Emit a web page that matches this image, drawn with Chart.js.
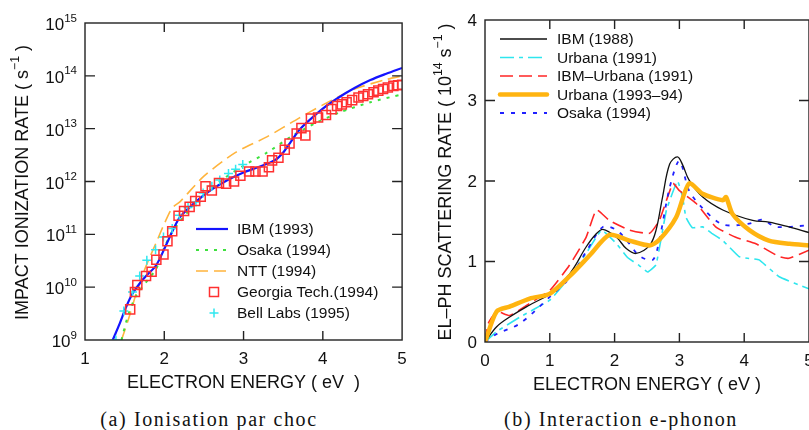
<!DOCTYPE html>
<html>
<head>
<meta charset="utf-8">
<script src="https://cdn.jsdelivr.net/npm/chart.js@4.4.1/dist/chart.umd.min.js"></script>
<style>
html, body { margin: 0; padding: 0; background: #fff; width: 809px; height: 430px; overflow: hidden; }
canvas { position: absolute; top: 0; }
#chartA { left: 0; }
#chartB { left: 410px; }
.cap { position: absolute; top: 408px; font: 20px "Liberation Serif", serif; letter-spacing: 1.6px;
       line-height: 22px; white-space: nowrap; transform: translateX(-50%); color: #111; }
</style>
</head>
<body>
<canvas id="chartA" width="410" height="400"></canvas>
<canvas id="chartB" width="410" height="400"></canvas>
<div class="cap" style="left:209px">(a) Ionisation par choc</div>
<div class="cap" style="left:621px">(b) Interaction e-phonon</div>
<script>
// ---- (a) impact ionization rate: energy (eV) and log10 of rate (s^-1)
const ibm93E   = [1.35, 1.44, 1.52, 1.6, 1.69, 1.77, 1.9, 2.02, 2.1, 2.2, 2.4, 2.6, 2.8, 3.0, 3.2, 3.4, 3.5, 3.6, 3.7, 3.8, 4.0, 4.2, 4.4, 4.6, 4.8, 5.0];
const ibm93Log = [9.0, 9.32, 9.63, 9.88, 10.07, 10.21, 10.42, 10.79, 11.05, 11.33, 11.62, 11.85, 12.03, 12.17, 12.28, 12.41, 12.55, 12.76, 12.97, 13.12, 13.38, 13.59, 13.77, 13.92, 14.04, 14.15];

const osakaE   = [1.46, 1.55, 1.65, 1.8, 1.9, 2.0, 2.1, 2.2, 2.4, 2.7, 3.0, 3.3, 3.6, 3.9, 4.2, 4.6, 5.0];
const osakaLog = [9.0, 9.5, 9.85, 10.15, 10.35, 10.75, 11.05, 11.25, 11.6, 12.0, 12.3, 12.55, 12.85, 13.1, 13.3, 13.5, 13.65];

const nttE   = [1.46, 1.55, 1.65, 1.77, 1.9, 2.0, 2.1, 2.2, 2.5, 2.9, 3.3, 3.7, 4.0, 4.4, 4.8, 5.0];
const nttLog = [9.0, 9.4, 9.9, 10.4, 10.85, 11.2, 11.5, 11.62, 12.1, 12.55, 12.85, 13.2, 13.45, 13.75, 13.93, 14.0];

const gtechE   = [1.57, 1.63, 1.66, 1.77, 1.84, 1.9, 1.99, 2.04, 2.1, 2.18, 2.25, 2.32, 2.39, 2.46, 2.52, 2.6, 2.69, 2.78, 2.88, 2.96, 3.07, 3.15, 3.24, 3.32, 3.36, 3.44, 3.52, 3.58, 3.67, 3.73, 3.78, 3.85, 3.94, 4.04, 4.11, 4.18, 4.24, 4.3, 4.37, 4.45, 4.51, 4.57, 4.64, 4.7, 4.76, 4.82, 4.89, 4.95, 5.0];
const gtechLog = [9.58, 9.91, 10.04, 10.21, 10.29, 10.52, 10.62, 10.87, 11.06, 11.35, 11.44, 11.52, 11.63, 11.71, 11.91, 11.83, 11.97, 11.96, 12.0, 12.11, 12.19, 12.19, 12.19, 12.27, 12.4, 12.45, 12.6, 12.72, 12.91, 13.01, 12.87, 13.19, 13.21, 13.26, 13.37, 13.43, 13.46, 13.5, 13.54, 13.59, 13.62, 13.65, 13.69, 13.72, 13.75, 13.78, 13.81, 13.82, 13.83];

const bellE   = [1.39, 1.49, 1.6, 1.69, 1.78, 1.89, 1.99, 2.1, 2.19, 2.3, 2.4, 2.49, 2.6, 2.7, 2.81, 2.9, 2.99];
const bellLog = [9.0, 9.55, 9.91, 10.21, 10.51, 10.71, 10.95, 11.11, 11.36, 11.51, 11.61, 11.78, 11.91, 12.03, 12.15, 12.23, 12.32];

const ionXTicks = [1, 2, 3, 4, 5];
const ionYExps  = [9, 10, 11, 12, 13, 14, 15];

// ---- (b) el-ph scattering rate: energy (eV) and rate (10^14 s^-1)
const ibm88E = [0, 0.18, 0.38, 0.69, 1.0, 1.31, 1.56, 1.7, 1.82, 2.03, 2.18, 2.33, 2.54, 2.64, 2.74, 2.85, 2.97, 3.05, 3.15, 3.36, 3.67, 4.13, 4.38, 4.69, 5.0];
const ibm88V = [0, 0.19, 0.31, 0.46, 0.6, 0.85, 1.18, 1.33, 1.4, 1.3, 1.16, 1.1, 1.2, 1.39, 1.8, 2.21, 2.3, 2.2, 2.01, 1.8, 1.64, 1.51, 1.49, 1.43, 1.36];

const urb91E = [0, 0.18, 0.54, 1.0, 1.31, 1.56, 1.8, 2.03, 2.2, 2.38, 2.51, 2.64, 2.8, 2.97, 3.05, 3.1, 3.2, 3.36, 3.5, 3.67, 3.92, 4.05, 4.23, 4.54, 5.0];
const urb91V = [0, 0.13, 0.31, 0.52, 0.81, 1.1, 1.39, 1.22, 1.05, 0.95, 0.87, 0.96, 1.64, 2.0, 1.8, 1.55, 1.42, 1.43, 1.35, 1.26, 1.06, 1.04, 1.02, 0.81, 0.66];

const ibmUrbE = [0, 0.05, 0.18, 0.38, 0.69, 1.0, 1.3, 1.56, 1.72, 1.92, 2.23, 2.54, 2.69, 2.9, 3.0, 3.26, 3.56, 3.87, 4.18, 4.54, 4.69, 5.0];
const ibmUrbV = [0, 0.23, 0.38, 0.33, 0.48, 0.64, 0.95, 1.3, 1.64, 1.51, 1.39, 1.35, 1.51, 1.97, 1.88, 1.72, 1.43, 1.3, 1.22, 1.06, 1.04, 1.14];

const urb93E = [0, 0.18, 0.38, 0.69, 1.0, 1.31, 1.62, 1.92, 2.23, 2.54, 2.69, 2.95, 3.15, 3.36, 3.67, 3.72, 3.82, 4.08, 4.38, 4.7, 5.0];
const urb93V = [0, 0.38, 0.44, 0.54, 0.6, 0.82, 1.08, 1.33, 1.26, 1.2, 1.27, 1.55, 1.97, 1.84, 1.76, 1.8, 1.59, 1.39, 1.26, 1.22, 1.2];

const osa94E = [0, 0.18, 0.54, 1.0, 1.31, 1.56, 1.82, 2.03, 2.23, 2.38, 2.59, 2.69, 2.85, 3.0, 3.15, 3.36, 3.67, 4.08, 4.28, 4.49, 5.0];
const osa94V = [0, 0.1, 0.23, 0.56, 0.8, 1.12, 1.43, 1.39, 1.22, 1.07, 1.02, 1.27, 1.92, 2.25, 1.88, 1.66, 1.46, 1.47, 1.52, 1.43, 1.45];

const phXTicks = [0, 1, 2, 3, 4, 5];
const phYTicks = [0, 1, 2, 3, 4];

const FONT = '"Liberation Sans", Arial, sans-serif';

const pts = (xs, ys) => xs.map((x, i) => ({ x, y: ys[i] }));
const logPts = (xs, ys) => xs.map((x, i) => ({ x, y: Math.pow(10, ys[i]) }));

// text with raised exponents, centred on (cx, cy)
function richWidth(ctx, segs, size) {
    let w = 0;
    segs.forEach(s => {
        ctx.font = (s.sup ? size * 0.68 : size) + 'px ' + FONT;
        w += ctx.measureText(s.t).width;
    });
    return w;
}

function drawRich(ctx, segs, x, cy, size, align) {
    const w = richWidth(ctx, segs, size);
    let cx = align === 'right' ? x - w : x - w / 2;
    const base = cy + size * 0.36;
    ctx.textAlign = 'left';
    ctx.textBaseline = 'alphabetic';
    segs.forEach(s => {
        ctx.font = (s.sup ? size * 0.68 : size) + 'px ' + FONT;
        ctx.fillText(s.t, cx, s.sup ? base - size * 0.5 : base);
        cx += ctx.measureText(s.t).width;
    });
}

// box, inward ticks, tick labels, axis titles and legend
const frame = {
    id: 'frame',
    afterDraw(chart, args, o) {
        const { ctx, chartArea: a } = chart;
        const sx = chart.scales.x, sy = chart.scales.y;
        ctx.save();
        ctx.strokeStyle = '#222';
        ctx.fillStyle = '#111';
        ctx.lineWidth = 1.4;
        ctx.setLineDash([]);
        ctx.strokeRect(a.left, a.top, a.right - a.left, a.bottom - a.top);

        ctx.beginPath();
        o.xTicks.forEach(v => {
            if (v === sx.min || v === sx.max) return;
            const px = sx.getPixelForValue(v);
            ctx.moveTo(px, a.bottom); ctx.lineTo(px, a.bottom - 9);
            ctx.moveTo(px, a.top); ctx.lineTo(px, a.top + 9);
        });
        o.yTicks.forEach(v => {
            if (v === sy.min || v === sy.max) return;
            const py = sy.getPixelForValue(v);
            ctx.moveTo(a.left, py); ctx.lineTo(a.left + 10, py);
            ctx.moveTo(a.right, py); ctx.lineTo(a.right - 10, py);
        });
        ctx.stroke();

        ctx.font = '17px ' + FONT;
        ctx.textAlign = 'center';
        ctx.textBaseline = 'middle';
        o.xTicks.forEach(v => ctx.fillText(String(v), sx.getPixelForValue(v), a.bottom + 19));

        o.yTicks.forEach(v => {
            const py = sy.getPixelForValue(v);
            if (o.logLabels) {
                const e = String(Math.round(Math.log10(v)));
                drawRich(ctx, [{ t: '10' }, { t: e, sup: true }], a.left - 8, py + 1, 17, 'right');
            } else {
                ctx.font = '17px ' + FONT;
                ctx.textAlign = 'right';
                ctx.textBaseline = 'middle';
                ctx.fillText(String(v), a.left - 8, py + 1);
            }
        });

        drawRich(ctx, o.xTitle, (a.left + a.right) / 2, a.bottom + 42, 18);
        ctx.save();
        ctx.translate(o.yTitleX, (a.top + a.bottom) / 2 + 1);
        ctx.rotate(-Math.PI / 2);
        drawRich(ctx, o.yTitle, 0, 0, 18);
        ctx.restore();

        // legend
        const L = o.legend;
        chart.data.datasets.forEach((ds, i) => {
            const y = L.y + i * L.step;
            ctx.strokeStyle = ds.borderColor;
            if (ds.showLine === false) {
                const cx = (L.x0 + L.x1) / 2 + 2, r = 4.5;
                ctx.lineWidth = 1.5;
                ctx.setLineDash([]);
                ctx.beginPath();
                if (ds.pointStyle === 'rect') {
                    ctx.rect(cx - r, y - r, 2 * r, 2 * r);
                } else {
                    ctx.moveTo(cx - r, y); ctx.lineTo(cx + r, y);
                    ctx.moveTo(cx, y - r); ctx.lineTo(cx, y + r);
                }
                ctx.stroke();
            } else {
                ctx.lineWidth = ds.borderWidth;
                ctx.lineCap = ds.borderCapStyle || 'butt';
                ctx.setLineDash(ds.borderDash || []);
                ctx.beginPath();
                ctx.moveTo(L.x0, y); ctx.lineTo(L.x1, y);
                ctx.stroke();
                ctx.lineCap = 'butt';
            }
            ctx.setLineDash([]);
            ctx.fillStyle = '#111';
            ctx.font = '15.5px ' + FONT;
            ctx.textAlign = 'left';
            ctx.textBaseline = 'middle';
            ctx.fillText(ds.label, L.tx, y + 1);
        });
        ctx.restore();
    },
};

function lineSet(label, data, color, width, dash, extra) {
    return Object.assign({
        label, data, showLine: true, borderColor: color, backgroundColor: color,
        borderWidth: width, borderDash: dash, pointRadius: 0, pointHoverRadius: 0, tension: 0.25,
    }, extra || {});
}

function hideScale(type, min, max, size, isX) {
    return {
        type, min, max, display: true,
        ticks: { display: false },
        grid: { display: false },
        border: { display: false },
        afterFit: s => { if (isX) s.height = size; else s.width = size; },
    };
}

new Chart(document.getElementById('chartA'), {
    type: 'scatter',
    data: {
        datasets: [
            lineSet('IBM (1993)', logPts(ibm93E, ibm93Log), '#1414ff', 2.2, [], { tension: 0.3, order: 3 }),
            lineSet('Osaka (1994)', logPts(osakaE, osakaLog), '#3ee03e', 2, [3, 6], { order: 4 }),
            lineSet('NTT (1994)', logPts(nttE, nttLog), '#ffb43c', 1.6, [12, 6], { order: 5 }),
            {
                label: 'Georgia Tech.(1994)', data: logPts(gtechE, gtechLog), showLine: false,
                pointStyle: 'rect', pointRadius: 6.4, pointBorderWidth: 1.5,
                borderColor: '#ff3030', pointBorderColor: '#ff3030', pointBackgroundColor: 'rgba(0,0,0,0)',
                order: 1,
            },
            {
                label: 'Bell Labs (1995)', data: logPts(bellE, bellLog), showLine: false,
                pointStyle: 'cross', pointRadius: 4.5, pointBorderWidth: 1.5,
                borderColor: '#30e8f0', pointBorderColor: '#30e8f0',
                order: 2,
            },
        ],
    },
    options: {
        responsive: false,
        animation: false,
        events: [],
        layout: { padding: { top: 23, right: 6, left: 0, bottom: 0 } },
        scales: {
            x: hideScale('linear', 1, 5, 60, true),
            y: hideScale('logarithmic', 1e9, 1e15, 85, false),
        },
        plugins: {
            legend: { display: false },
            tooltip: { enabled: false },
            frame: {
                xTicks: ionXTicks,
                yTicks: ionYExps.map(e => Math.pow(10, e)),
                logLabels: true,
                xTitle: [{ t: 'ELECTRON ENERGY ( eV  )' }],
                yTitle: [{ t: 'IMPACT IONIZATION RATE ( s' }, { t: '−1', sup: true }, { t: ' )' }],
                yTitleX: 22,
                legend: { x0: 196, x1: 228, tx: 237, y: 229, step: 21 },
            },
        },
    },
    plugins: [frame],
});

new Chart(document.getElementById('chartB'), {
    type: 'scatter',
    data: {
        datasets: [
            lineSet('IBM (1988)', pts(ibm88E, ibm88V), '#111111', 1.3, [], { tension: 0.35, order: 2 }),
            lineSet('Urbana (1991)', pts(urb91E, urb91V), '#2ee6ee', 1.6, [14, 5, 4, 5], { tension: 0.1, order: 5 }),
            lineSet('IBM\u2013Urbana (1991)', pts(ibmUrbE, ibmUrbV), '#ff2626', 1.6, [13, 6], { tension: 0.15, order: 4 }),
            lineSet('Urbana (1993\u201394)', pts(urb93E, urb93V), '#ffb410', 4.5, [], { tension: 0.25, order: 1, borderCapStyle: 'round' }),
            lineSet('Osaka (1994)', pts(osa94E, osa94V), '#2020ff', 1.8, [4, 7], { tension: 0.3, order: 3 }),
        ],
    },
    options: {
        responsive: false,
        animation: false,
        events: [],
        layout: { padding: { top: 20, right: 11, left: 0, bottom: 0 } },
        scales: {
            x: hideScale('linear', 0, 5, 58, true),
            y: hideScale('linear', 0, 4, 75, false),
        },
        plugins: {
            legend: { display: false },
            tooltip: { enabled: false },
            frame: {
                xTicks: phXTicks,
                yTicks: phYTicks,
                logLabels: false,
                xTitle: [{ t: 'ELECTRON ENERGY ( eV )' }],
                yTitle: [{ t: 'EL\u2013PH SCATTERING RATE ( 10' }, { t: '14', sup: true }, { t: ' s' }, { t: '−1', sup: true }, { t: ' )' }],
                yTitleX: 35,
                legend: { x0: 90, x1: 137, tx: 147, y: 39, step: 18.5 },
            },
        },
    },
    plugins: [frame],
});
</script>
</body>
</html>
